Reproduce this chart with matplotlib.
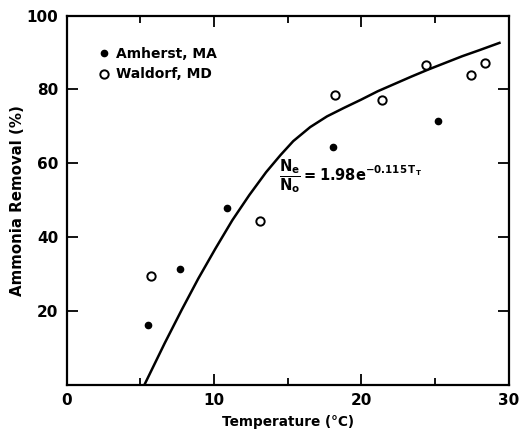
import matplotlib.pyplot as plt
from matplotlib.ticker import MultipleLocator

# data
amherst_t = [5.5, 7.7, 10.9, 18.05, 25.2]
amherst_pct = [16.2, 31.5, 48.0, 64.5, 71.5]

waldorf_t = [5.7, 13.1, 18.2, 21.4, 24.4, 27.4, 28.4]
waldorf_pct = [29.5, 44.3, 78.4, 77.2, 86.7, 83.8, 87.1]

# fitted curve
curve_t = [5.27, 6.65, 7.8, 8.93, 10.09, 11.24, 12.39, 13.53, 14.5,
           15.37, 16.52, 17.66, 18.81, 19.96, 21.1, 22.25, 23.4,
           24.54, 25.69, 26.84, 27.98, 29.36]
curve_pct = [0.0, 11.3, 20.3, 28.8, 36.9, 44.6, 51.4, 57.6, 62.2,
             66.0, 69.8, 72.7, 75.0, 77.2, 79.5, 81.5, 83.5,
             85.4, 87.2, 89.0, 90.6, 92.6]

plt.rcParams['font.family'] = ['DejaVu Sans']
plt.rcParams['font.weight'] = 'bold'
plt.rcParams['mathtext.default'] = 'bf'

fig = plt.figure(figsize=(5.19, 4.32), dpi=100)
ax = fig.add_axes([0.1285, 0.109, 0.852, 0.855])

ax.plot(curve_t, curve_pct, color='black', lw=1.8, solid_joinstyle='round')
ax.plot(amherst_t, amherst_pct, 'o', color='black', ms=4.5, ls='none',
        label='Amherst, MA')
ax.plot(waldorf_t, waldorf_pct, 'o', mfc='white', mec='black', mew=1.4,
        ms=6, ls='none', label='Waldorf, MD')

ax.text(14.4, 56.5, r'$\dfrac{N_e}{N_o} = 1.98e^{-0.115\,T_T}$',
        fontsize=10.5, va='center', ha='left')

ax.set_xlim(0, 30)
ax.set_ylim(0, 100)
ax.xaxis.set_major_locator(MultipleLocator(10))
ax.xaxis.set_minor_locator(MultipleLocator(5))
ax.set_yticks([20, 40, 60, 80, 100])
ax.tick_params(which='major', direction='in', length=8, width=1.3,
               top=True, right=True, labelsize=11, pad=6)
ax.tick_params(which='minor', direction='in', length=5, width=1.3,
               top=True)
for s in ax.spines.values():
    s.set_linewidth(1.6)

ax.set_xlabel('Temperature (°C)', fontsize=9.8, fontweight='bold', labelpad=5)
ax.set_ylabel('Ammonia Removal (%)', fontsize=10.8, fontweight='bold', labelpad=1)

ax.legend(loc='upper left', bbox_to_anchor=(0.04, 0.95), frameon=False,
          handletextpad=0.4, handlelength=1.0, fontsize=10,
          labelspacing=0.5)

fig.savefig('out.png', dpi=100)
